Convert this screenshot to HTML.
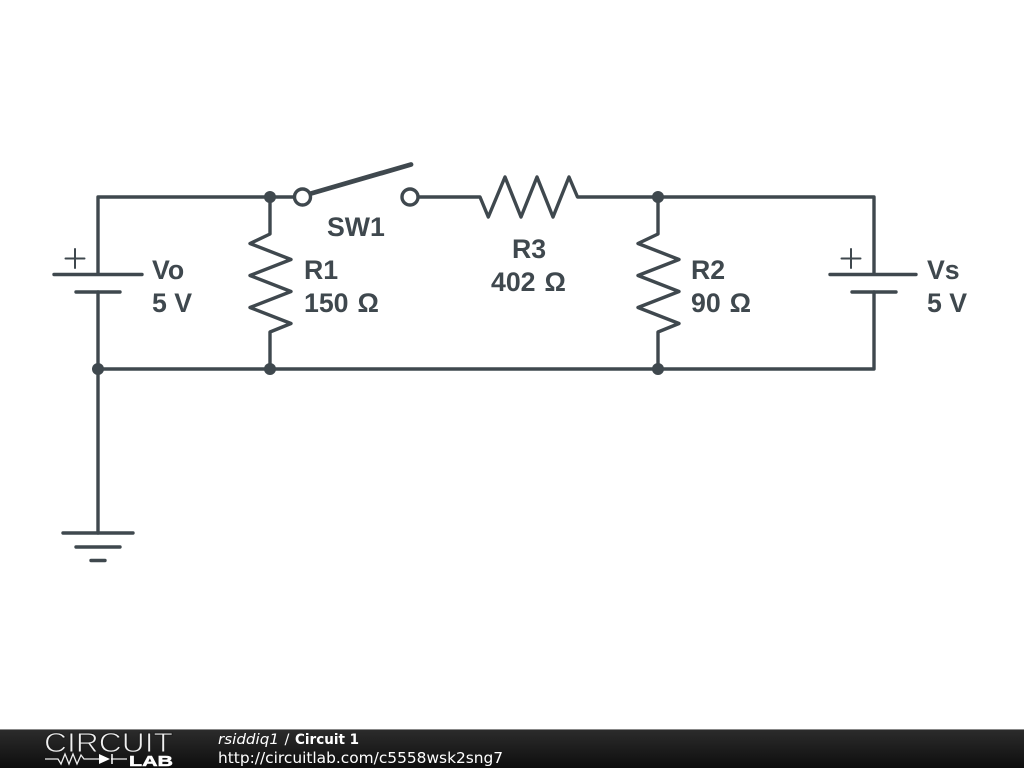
<!DOCTYPE html>
<html>
<head>
<meta charset="utf-8">
<style>
html,body{margin:0;padding:0;background:#fff;width:1024px;height:768px;overflow:hidden}
svg{display:block}
.l{font-family:"Liberation Sans",sans-serif;font-weight:bold;font-size:26.7px;fill:#3f484e}
.f{font-family:"DejaVu Sans",sans-serif;font-size:14.6px;fill:#fff}
</style>
</head>
<body>
<svg width="1024" height="768" viewBox="0 0 1024 768" xmlns="http://www.w3.org/2000/svg">
<defs>
<linearGradient id="g" x1="0" y1="0" x2="0" y2="1">
<stop offset="0" stop-color="#2c2c2c"/><stop offset="1" stop-color="#0e0e0e"/>
</linearGradient>
</defs>
<g fill="none" stroke="#3f484e" stroke-width="3.4" stroke-linecap="round" stroke-linejoin="round">
<path d="M98 274V197H295"/>
<path d="M418 197H480L488.300 217L505 177L521 217L537 177L553 217L569 177L577.500 197H874V274"/>
<path d="M98 292V533"/>
<path d="M98 369H874V292"/>
<path d="M270 197V234L250 243.500L291 259.500L250 275.500L291 291.500L250 307.500L291 323.500L270 332V369"/>
<path d="M658 197V234L638 243.500L679 259.500L638 275.500L679 291.500L638 307.500L679 323.500L658 332V369"/>
<path d="M54 274.500H142M76 292H120"/>
<path d="M830 274.500H916M852 292H896"/>
<path d="M63 533H133M76 547H120M91 560.500H105"/>
<path d="M65.500 258.500H84.500M75 249V268M841.500 258.500H860.500M851 249V268" stroke-width="2"/>
<circle cx="302.500" cy="197" r="8" fill="#fff"/>
<circle cx="410" cy="197" r="8" fill="#fff"/>
<path d="M311 193.500L411 164.500" stroke-width="4.800"/>
</g>
<g fill="#3f484e">
<circle cx="270" cy="197" r="6"/>
<circle cx="658" cy="197" r="6"/>
<circle cx="98" cy="369" r="6"/>
<circle cx="270" cy="369" r="6"/>
<circle cx="658" cy="369" r="6"/>
</g>
<text class="l" x="152" y="279">Vo</text>
<text class="l" x="152" y="312">5 V</text>
<text class="l" x="304" y="279">R1</text>
<text class="l" x="304" y="312">150 <tspan dx="1.500">Ω</tspan></text>
<text class="l" x="327" y="236">SW1</text>
<text class="l" x="512" y="258">R3</text>
<text class="l" x="491" y="291">402 <tspan dx="1.500">Ω</tspan></text>
<text class="l" x="691" y="279">R2</text>
<text class="l" x="691" y="312">90 <tspan dx="1.500">Ω</tspan></text>
<text class="l" x="927" y="279">Vs</text>
<text class="l" x="927" y="312">5 V</text>
<rect x="0" y="729" width="1024" height="39" fill="url(#g)"/>
<rect x="0" y="729" width="1024" height="1" fill="#888"/>
<text x="44" y="752" font-family="Liberation Sans,sans-serif" font-size="27.500" fill="#f0f0f0" stroke="#1c1c1c" stroke-width="0.9" textLength="129" lengthAdjust="spacingAndGlyphs">CIRCUIT</text>
<text x="129" y="766" font-family="Liberation Sans,sans-serif" font-weight="bold" font-size="15" fill="#fff" stroke="#fff" stroke-width="0.5" textLength="44" lengthAdjust="spacingAndGlyphs">LAB</text>
<path d="M45 759H58L61 764L65 754L69 764L73 754L77 764L81 755L84 759H99M111 759H127" fill="none" stroke="#eee" stroke-width="1.300"/>
<path d="M99 754L110 759L99 764Z" fill="#fff"/>
<path d="M112 754V764" stroke="#fff" stroke-width="1.500"/>
<text class="f" x="218" y="744" font-style="italic" textLength="61" lengthAdjust="spacingAndGlyphs">rsiddiq1</text>
<text class="f" x="284.500" y="744">/</text>
<text class="f" x="295" y="744" font-weight="bold" textLength="64" lengthAdjust="spacingAndGlyphs">Circuit 1</text>
<text class="f" x="218" y="763" style="font-size:15.400px">http://circuitlab.com/c5558wsk2sng7</text>
</svg>
</body>
</html>
